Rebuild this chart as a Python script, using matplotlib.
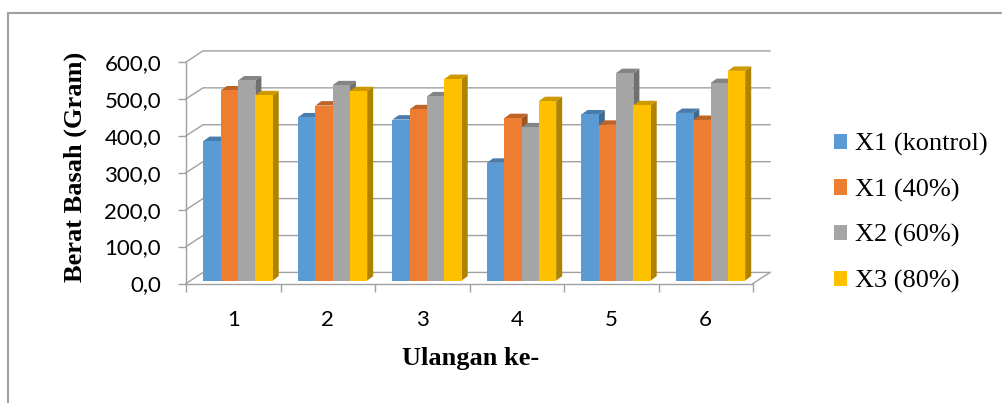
import matplotlib.pyplot as plt
import numpy as np
from matplotlib.lines import Line2D
from matplotlib.patches import Patch, Polygon
from matplotlib.ticker import FixedLocator, FuncFormatter

# berat basah per ulangan (gram)
ulangan = ['1', '2', '3', '4', '5', '6']
series_names = ['X1 (kontrol)', 'X1 (40%)', 'X2 (60%)', 'X3 (80%)']
x1_kontrol = [378, 442, 436, 319, 450, 454]
x1_40 = [515, 474, 464, 440, 422, 435]
x2_60 = [542, 529, 499, 415, 562, 535]
x3_80 = [502, 513, 546, 486, 475, 568]
y_ticks = [0, 100, 200, 300, 400, 500, 600]

colors = ['#5B9BD5', '#ED7D31', '#A5A5A5', '#FFC000']
grid_color = '#a0a0a0'

W, H = 1002, 403
# plot box in pixels (front plane)
PX_LEFT, PX_RIGHT = 186, 753
PX_BOTTOM, PX_TOP = 283.5, 62

# 3D offsets in data units
DX, DY = 0.18, 30.0          # back wall shift
BAR_DX, BAR_DY = 0.064, 12.0  # bar depth
BASE = 8.0
BAR_X0, BAR_W = 0.185, 0.183


def shade(c, f):
    r, g, b = plt.matplotlib.colors.to_rgb(c)
    return (r * f, g * f, b * f)


fig = plt.figure(figsize=(W / 100, H / 100), dpi=100)
ax = fig.add_axes([PX_LEFT / W, (H - PX_BOTTOM) / H,
                   (PX_RIGHT - PX_LEFT) / W, (PX_BOTTOM - PX_TOP) / H])
ax.set_xlim(0, len(ulangan))
ax.set_ylim(0, 600)
ax.patch.set_visible(False)

for s in ['top', 'right']:
    ax.spines[s].set_visible(False)
for s in ['left', 'bottom']:
    ax.spines[s].set_color(grid_color)
    ax.spines[s].set_linewidth(1.0)

# y axis
ax.yaxis.set_major_locator(FixedLocator(y_ticks))
ax.yaxis.set_major_formatter(FuncFormatter(lambda v, p: f'{v:.1f}'.replace('.', ',')))
ax.tick_params(axis='y', direction='out', length=6, width=1.0, color=grid_color,
               pad=12, labelsize=16, labelcolor='black')
for lab in ax.get_yticklabels():
    lab.set_family('Lato')

# x axis: tick marks at the category borders, labels in between
ax.xaxis.set_major_locator(FixedLocator(np.arange(len(ulangan) + 1)))
ax.xaxis.set_minor_locator(FixedLocator(np.arange(len(ulangan)) + 0.5))
ax.set_xticklabels([], minor=False)
ax.set_xticklabels(ulangan, minor=True, family='Lato', fontsize=16)
ax.tick_params(axis='x', which='major', direction='out', length=6, width=1.0,
               color=grid_color, labelbottom=False)
ax.tick_params(axis='x', which='minor', length=0, pad=19)

# back wall gridlines + side wall diagonals
for v in y_ticks:
    ax.plot([0, DX, len(ulangan) + DX], [v, v + DY, v + DY], color=grid_color,
            lw=1.0, clip_on=False, zorder=1)
ax.plot([len(ulangan), len(ulangan) + DX], [0, DY], color=grid_color,
        lw=1.0, clip_on=False, zorder=1)

data = [x1_kontrol, x1_40, x2_60, x3_80]
idx = np.arange(len(ulangan))
for j, (vals, c) in enumerate(zip(data, colors)):
    z = 3 + j * 0.3
    lefts = idx + BAR_X0 + j * BAR_W
    for x, v in zip(lefts, vals):
        r = x + BAR_W
        top = BASE + v
        side = Polygon([(r, BASE), (r + BAR_DX, BASE + BAR_DY),
                        (r + BAR_DX, top + BAR_DY), (r, top)],
                       closed=True, fc=shade(c, 0.68), ec='none', zorder=z, clip_on=False)
        lid = Polygon([(x, top), (r, top), (r + BAR_DX, top + BAR_DY),
                       (x + BAR_DX, top + BAR_DY)],
                      closed=True, fc=shade(c, 0.8), ec='none', zorder=z + 0.1, clip_on=False)
        ax.add_patch(side)
        ax.add_patch(lid)
    ax.bar(lefts, vals, width=BAR_W, bottom=BASE, align='edge', color=c,
           zorder=z + 0.2, clip_on=False, linewidth=0)

# axis titles
fig.text(75 / W, 1 - 167 / H, 'Berat Basah (Gram)', rotation=90, ha='center', va='center',
         family='Liberation Serif', fontweight='bold', fontsize=19)
fig.text(471 / W, 1 - 358 / H, 'Ulangan ke-', ha='center', va='center',
         family='Liberation Serif', fontweight='bold', fontsize=19)

handles = [Patch(fc=c, ec='none') for c in colors]
fig.legend(handles, series_names, loc='center left',
           bbox_to_anchor=(834 / W, 1 - 213 / H), frameon=False,
           prop={'family': 'Liberation Serif', 'size': 19},
           handlelength=0.5, handleheight=0.5, handletextpad=0.3,
           labelspacing=0.85, borderpad=0, borderaxespad=0)

# chart area border (top and left edges)
fig.add_artist(Line2D([8 / W, 1], [1 - 13 / H, 1 - 13 / H], color=grid_color, lw=1.5))
fig.add_artist(Line2D([8 / W, 8 / W], [0, 1 - 13 / H], color=grid_color, lw=1.5))

fig.savefig('out.png', dpi=100)
